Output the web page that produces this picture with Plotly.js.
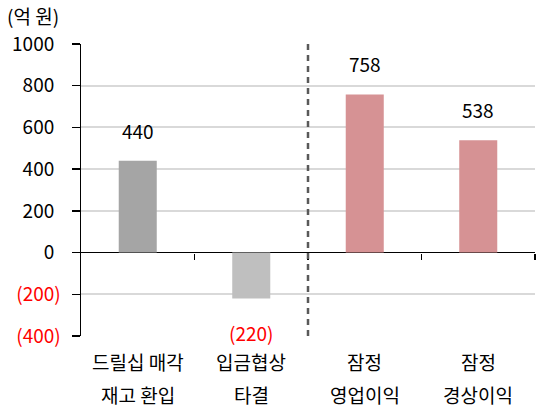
<!DOCTYPE html>
<html><head><meta charset="utf-8">
<script src="https://cdn.plot.ly/plotly-3.0.1.min.js"></script>
<style>html,body{margin:0;padding:0;background:#fff}#chart{width:536px;height:412px}</style>
</head><body><div id="chart"></div>
<script>
const categoryLine1 = ["드릴십 매각", "입금협상", "잠정", "잠정"];
const categoryLine2 = ["재고 환입", "타결", "영업이익", "경상이익"];
const values = [440, -220, 758, 538];
const barColors = ["#A5A5A5", "#BFBFBF", "#D69294", "#D69294"];
const yTickValues = [-400, -200, 0, 200, 400, 600, 800, 1000];
const yRange = [-400, 1000];
const unitLabel = "(억 원)";
const dividerAfterIndex = 1;

const FONT = "Noto Sans CJK KR";
const RED = "#FF0000";
const fmt = v => v < 0
  ? `<span style="color:${RED}">(${-v})</span>`
  : `${v}<span style="color:#FFFFFF">)</span>`;

const xs = values.map((_, i) => i);
const boundaries = values.map((_, i) => i + 0.5);

const trace = {
  type: "bar", x: xs, y: values, width: 0.335,
  marker: {color: barColors, line: {width: 0}},
  hoverinfo: "skip", cliponaxis: false
};

const annotations = [];
values.forEach((v, i) => {
  annotations.push({
    x: i, y: v, xref: "x", yref: "y", showarrow: false,
    text: v < 0 ? `(${-v})` : String(v),
    yanchor: v < 0 ? "top" : "bottom",
    yshift: v < 0 ? -19 : 15,
    font: {family: FONT, size: 19, color: v < 0 ? RED : "#000"}
  });
  annotations.push({
    x: i, y: 0, xref: "x", yref: "paper", showarrow: false,
    text: categoryLine1[i], yanchor: "middle", yshift: -25,
    font: {family: FONT, size: 19, color: "#000"}
  });
  annotations.push({
    x: i, y: 0, xref: "x", yref: "paper", showarrow: false,
    text: categoryLine2[i], yanchor: "middle", yshift: -58,
    font: {family: FONT, size: 19, color: "#000"}
  });
});

const zeroFrac = (0 - yRange[0]) / (yRange[1] - yRange[0]);

const layout = {
  width: 536, height: 412,
  margin: {l: 81, r: 1, t: 44, b: 76},
  paper_bgcolor: "#fff", plot_bgcolor: "#fff",
  showlegend: false, bargap: 0.6,
  font: {family: FONT, size: 19, color: "#000"},
  title: {
    text: unitLabel, xref: "container", yref: "container",
    x: 7 / 536, y: 1 - 17 / 412, xanchor: "left", yanchor: "middle",
    font: {family: FONT, size: 19, color: "#000"}
  },
  xaxis: {
    range: [-0.5, values.length - 0.5], showticklabels: false, ticks: "",
    showgrid: false, zeroline: false, showline: false, fixedrange: true
  },
  xaxis2: {
    overlaying: "x", anchor: "free", position: zeroFrac,
    range: [-0.5, values.length - 0.5], tickmode: "array", tickvals: boundaries,
    ticks: "outside", ticklen: 6, tickwidth: 1.5, tickcolor: "#000",
    showticklabels: false, showgrid: false, zeroline: false, showline: false
  },
  yaxis: {
    range: yRange, tickmode: "array", tickvals: yTickValues,
    ticktext: yTickValues.map(fmt),
    ticks: "outside", ticklen: 8, tickwidth: 1.5, tickcolor: "#000",
    ticklabelstandoff: 7,
    showline: true, linecolor: "#000", linewidth: 1.5,
    showgrid: true, gridcolor: "#D9D9D9", gridwidth: 2,
    zeroline: true, zerolinecolor: "#000", zerolinewidth: 1.5,
    tickfont: {family: FONT, size: 19, color: "#000"}, fixedrange: true
  },
  shapes: [{
    type: "line", xref: "x", yref: "paper",
    x0: dividerAfterIndex + 0.5, x1: dividerAfterIndex + 0.5, y0: 0, y1: 1,
    line: {color: "#595959", width: 2.5, dash: "6px,5px"}
  }],
  annotations: annotations
};

Plotly.newPlot("chart", [trace, {type: "scatter", x: [], y: [], xaxis: "x2", hoverinfo: "skip"}], layout, {staticPlot: true});
</script></body></html>
